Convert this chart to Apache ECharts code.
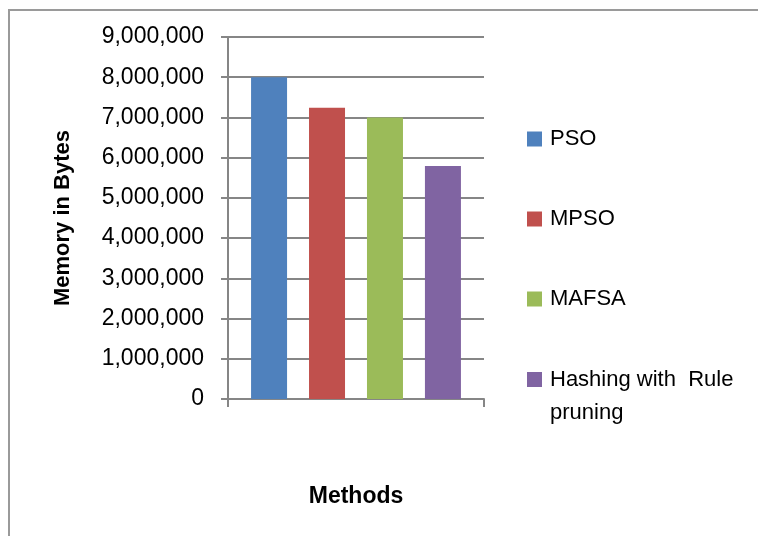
<!DOCTYPE html>
<html>
<head>
<meta charset="utf-8">
<script src="https://cdn.jsdelivr.net/npm/echarts@6/dist/echarts.min.js"></script>
<style>
html,body{margin:0;padding:0;background:#fff;}
#chart{width:758px;height:536px;}
</style>
</head>
<body>
<div id="chart"></div>
<script>
const categories = [''];
const seriesNames = ['PSO', 'MPSO', 'MAFSA', 'Hashing with Rule pruning'];
const seriesValues = [8000000, 7240000, 7000000, 5790000];
const seriesColors = ['#4F81BD', '#C0504D', '#9BBB59', '#8064A2'];
const yTicks = [0, 1000000, 2000000, 3000000, 4000000, 5000000, 6000000, 7000000, 8000000, 9000000];

const FONT = '"Liberation Sans", Arial, sans-serif';
const chart = echarts.init(document.getElementById('chart'), null, {renderer: 'canvas'});

const series = seriesNames.map((n, i) => ({
  name: n,
  type: 'bar',
  data: [seriesValues[i]],
  barWidth: 36,
  barGap: '61%',
  itemStyle: {color: seriesColors[i]},
  silent: true
}));

chart.setOption({
  animation: false,
  backgroundColor: '#fff',
  graphic: [{
    type: 'rect',
    shape: {x: 9, y: 10, width: 800, height: 600},
    style: {fill: 'none', stroke: '#9a9a9a', lineWidth: 2},
    silent: true
  }],
  grid: {left: 228, right: 274, top: 37, bottom: 137, containLabel: false},
  legend: [{
    orient: 'vertical',
    left: 527,
    top: 126,
    padding: 0,
    itemWidth: 15,
    itemHeight: 15,
    itemGap: 54,
    icon: 'rect',
    selectedMode: false,
    data: seriesNames.slice(0, 3),
    textStyle: {fontFamily: FONT, fontSize: 22, color: '#000', lineHeight: 26, padding: [0, 0, 0, 3]}
  }, {
    orient: 'vertical',
    left: 527,
    top: 330,
    padding: 0,
    itemWidth: 15,
    itemHeight: 15,
    icon: 'rect',
    selectedMode: false,
    data: [seriesNames[3]],
    formatter: function () { return '\nHashing with  Rule\npruning'; },
    textStyle: {fontFamily: FONT, fontSize: 22, color: '#000', lineHeight: 33, padding: [0, 0, 0, 3]}
  }],
  xAxis: {
    type: 'category',
    data: categories,
    name: 'Methods',
    nameLocation: 'middle',
    nameGap: 86,
    nameTextStyle: {fontFamily: FONT, fontSize: 23, fontWeight: 'bold', color: '#000'},
    axisLine: {show: true, lineStyle: {color: '#868686', width: 2}},
    axisTick: {show: true, length: 8, lineStyle: {color: '#868686', width: 2}},
    axisLabel: {show: false},
    splitLine: {show: false}
  },
  yAxis: {
    type: 'value',
    min: yTicks[0],
    max: yTicks[yTicks.length - 1],
    interval: yTicks[1] - yTicks[0],
    name: 'Memory in Bytes',
    nameLocation: 'middle',
    nameGap: 154,
    nameRotate: 90,
    nameTextStyle: {fontFamily: FONT, fontSize: 22, fontWeight: 'bold', color: '#000'},
    axisLine: {show: true, lineStyle: {color: '#868686', width: 2}},
    axisTick: {show: true, length: 7, lineStyle: {color: '#868686', width: 2}},
    axisLabel: {
      fontFamily: FONT, fontSize: 23, color: '#000', margin: 24,
      formatter: v => v.toLocaleString('en-US')
    },
    splitLine: {show: true, lineStyle: {color: '#868686', width: 2}}
  },
  series: series
});
</script>
</body>
</html>
